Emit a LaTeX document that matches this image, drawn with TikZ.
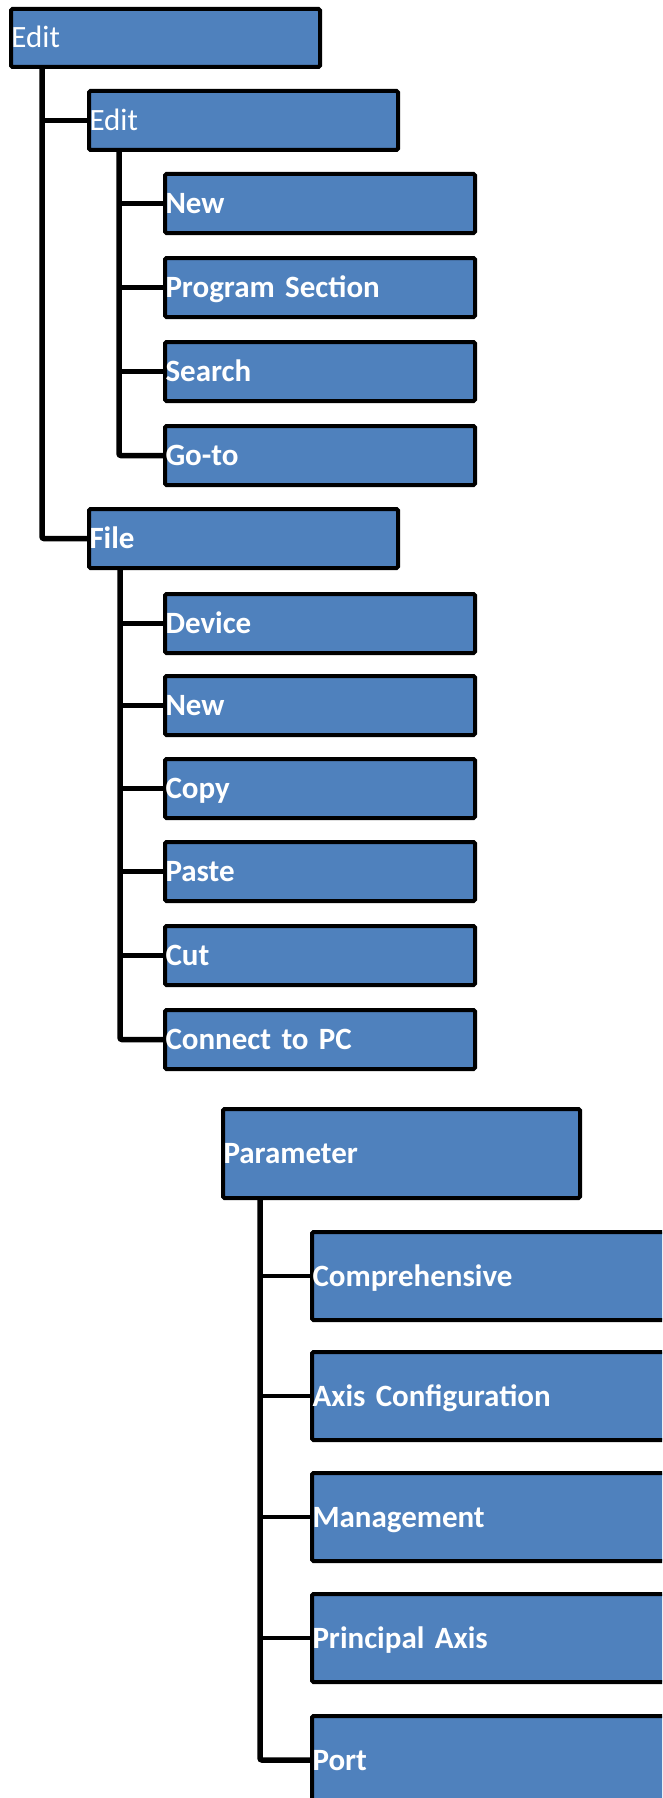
\documentclass[tikz,border=0pt]{standalone}
\usepackage{fontspec}
\setmainfont{Carlito}
\definecolor{boxblue}{HTML}{4F81BD}
\tikzset{
  box/.style={draw=black, line width=4pt, fill=boxblue, rounded corners=1.5pt,
    text=white, font=\bfseries\fontsize{31}{31}\selectfont, anchor=north west,
    inner xsep=0.5pt, inner ysep=0pt, text height=20pt, text depth=0pt, align=left},
  thin/.style={font=\mdseries\fontsize{31}{31}\selectfont},
  small/.style={text width=308pt, minimum height=59pt},
  tall/.style={minimum height=88pt},
  trunk/.style={line width=5.5pt, rounded corners=2pt},
  branch/.style={line width=4.5pt}
}
\begin{document}
\begin{tikzpicture}[x=1pt, y=1pt]
\useasboundingbox (0,0) rectangle (662,-1798);
\clip (0,0) rectangle (662,-1798);

% first tree
\node[box, thin, small, minimum height=58pt] (root) at (9,-7) {Edit};
\node[box, thin, small] (edit) at (87,-89) {Edit};
\node[box, small, text width=309pt] (enew) at (163,-172) {New};
\node[box, small, text width=309pt] (eprog) at (163,-256) {Program Section};
\node[box, small, text width=309pt] (esearch) at (163,-340) {Search};
\node[box, small, text width=309pt] (egoto) at (163,-424) {Go-to};
\node[box, small] (file) at (87,-507) {File};
\node[box, small, text width=309pt] (fdev) at (163,-592) {Device};
\node[box, small, text width=309pt] (fnew) at (163,-674) {New};
\node[box, small, text width=309pt] (fcopy) at (163,-757) {Copy};
\node[box, small, text width=309pt] (fpaste) at (163,-840) {Paste};
\node[box, small, text width=309pt] (fcut) at (163,-924) {Cut};
\node[box, small, text width=309pt] (fpc) at (163,-1008) {Connect to PC};

\coordinate (t0) at (42,-69);
\coordinate (t1) at (119,-152);
\coordinate (t2) at (120,-570);
\draw[trunk] (t0) |- (file.west);
\draw[branch] (t0 |- edit.west) -- (edit.west);
\draw[trunk] (t1) |- (egoto.west);
\foreach \n in {enew,eprog,esearch} \draw[branch] (t1 |- \n.west) -- (\n.west);
\draw[trunk] (t2) |- (fpc.west);
\foreach \n in {fdev,fnew,fcopy,fpaste,fcut} \draw[branch] (t2 |- \n.west) -- (\n.west);

% second tree
\node[box, tall, text width=356pt, minimum height=89pt] (param) at (221,-1107) {Parameter};
\node[box, tall, text width=420pt] (comp) at (310,-1230) {Comprehensive};
\node[box, tall, text width=420pt] (axis) at (310,-1350) {Axis Configuration};
\node[box, tall, text width=420pt] (mgmt) at (310,-1471) {Management};
\node[box, tall, text width=420pt] (paxis) at (310,-1592) {Principal Axis};
\node[box, tall, text width=420pt] (port) at (310,-1714) {Port};

\coordinate (t3) at (260,-1200);
\draw[trunk] (t3) |- (port.west);
\foreach \n in {comp,axis,mgmt,paxis} \draw[branch] (t3 |- \n.west) -- (\n.west);
\end{tikzpicture}
\end{document}
